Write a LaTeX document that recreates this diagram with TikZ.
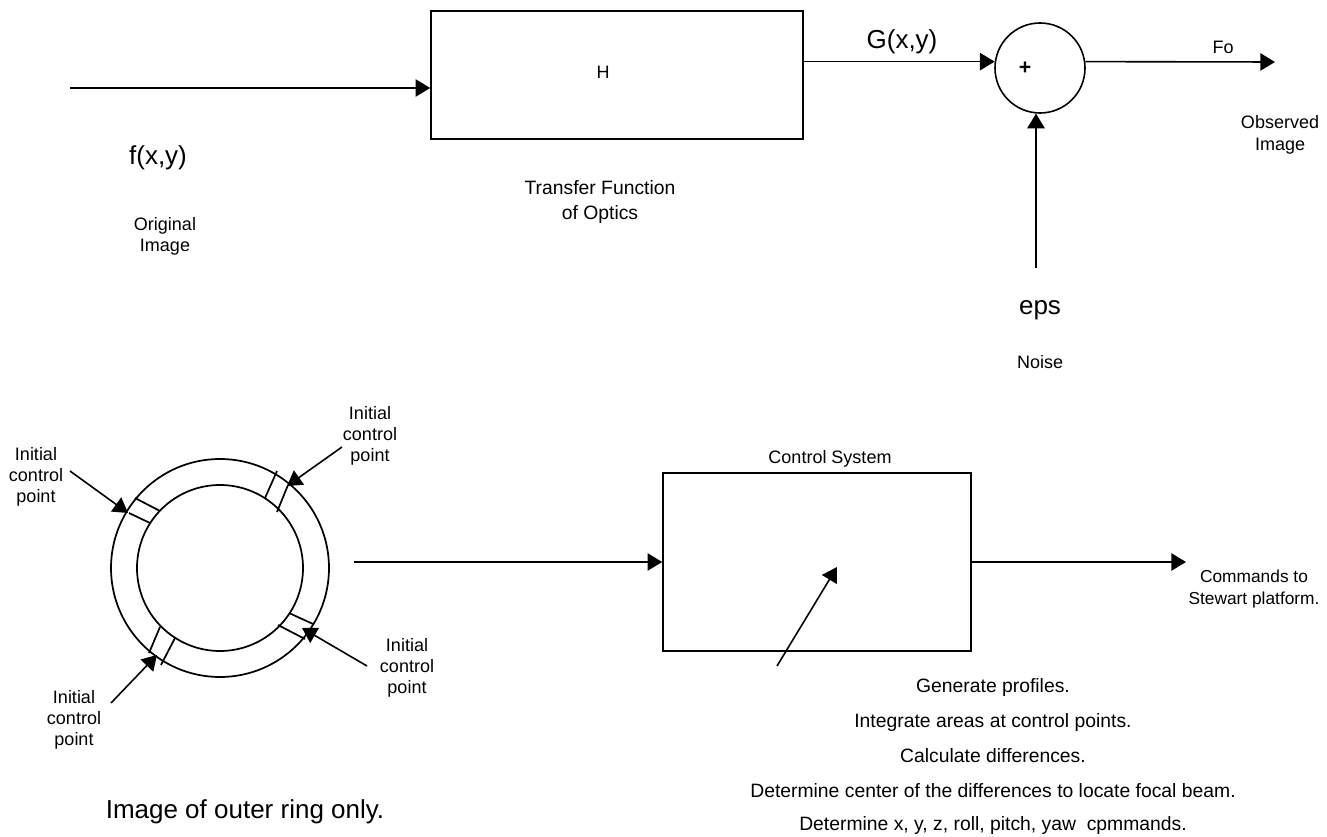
\documentclass[tikz,border=0pt]{standalone}
\usepackage{fontspec}
\setmainfont{Liberation Sans}
\usetikzlibrary{arrows.meta}
\begin{document}
\begin{tikzpicture}[x=0.75pt,y=-0.75pt,
  line width=1.2pt,
  arr/.style={-{Triangle[length=11pt,width=13pt]}},
  lbl/.style={inner sep=0pt, align=center},
  small/.style={lbl, font=\fontsize{13.5}{16}\selectfont},
  mid/.style={lbl, font=\fontsize{14.5}{18.75}\selectfont},
  large/.style={lbl, font=\fontsize{19.5}{23}\selectfont},
  blk/.style={draw, rectangle, inner sep=0pt},
  ringc/.style={draw, circle, inner sep=0pt, line width=1.3pt},
  notch/.style={line width=1.3pt}
]
\useasboundingbox (0,0) rectangle (1327,837);

% ---------------- top row ----------------
\node[blk, minimum width=279pt, minimum height=96pt] (H) at (617,75) {};
\node[small] (Hlab) at (603,72) {H};
\node[mid] (tf) at (600,202.5) {Transfer Function\\of Optics};

\coordinate (in) at (70,88);
\draw[arr] (in) -- (in -| H.west);
\node[large] (fxy) at (158,158) {f(x,y)};
\node[small] (orig) at (165,236.5) {Original\\Image};

\node[draw, circle, minimum size=67.5pt, inner sep=0pt] (sum) at (1040,68) {};
\node[lbl, font=\fontsize{16}{18}\selectfont\bfseries] (plus) at (1025,68) {+};
\draw[arr] (H.east |- sum.172) -- (sum.172);
\node[large] (gxy) at (902,42) {G(x,y)};

\coordinate (fo) at (1275,62);
\draw[arr] (sum.8) -- (fo);
\node[small] (folab) at (1223,47) {Fo};
\node[small] (obs) at (1280,135) {Observed\\Image};

\coordinate (noise) at (1036,268);
\draw[arr] (noise) -- (noise |- sum.265);
\node[large] (eps) at (1040,310) {eps};
\node[small] (noiselab) at (1040,362) {Noise};

% ---------------- bottom row ----------------
\node[ringc, minimum size=163.5pt] (outer) at (220,568) {};
\node[ringc, minimum size=124.5pt] (inner) at (220,568) {};

% control point notches
\draw[notch] (135,498) -- (160,511);
\draw[notch] (129,513) -- (150,523);
\draw[notch] (277,471) -- (265,498);
\draw[notch] (288,485) -- (277,512);
\draw[notch] (289,613) -- (313,624);
\draw[notch] (278,625) -- (305,639);
\draw[notch] (160,627) -- (149,653);
\draw[notch] (175,638) -- (161,665);

\coordinate (ulT) at (70,471);  \coordinate (ulH) at (128,513);
\coordinate (urT) at (342,447); \coordinate (urH) at (287,486);
\coordinate (lrT) at (367,666); \coordinate (lrH) at (302,628);
\coordinate (llT) at (111,703); \coordinate (llH) at (157,655);
\draw[arr] (ulT) -- (ulH);
\draw[arr] (urT) -- (urH);
\draw[arr] (lrT) -- (lrH);
\draw[arr] (llT) -- (llH);
\node[small] (icpUL) at (36,477) {Initial\\control\\point};
\node[small] (icpUR) at (370,436) {Initial\\control\\point};
\node[small] (icpLR) at (407,668) {Initial\\control\\point};
\node[small] (icpLL) at (74,720) {Initial\\control\\point};

\node[large] (ringlab) at (245,812) {Image of outer ring only.};

\node[blk, minimum width=231pt, minimum height=133.5pt] (ctrl) at (817,562) {};
\node[small] (ctrllab) at (830,459) {Control System};

\coordinate (ringout) at (354,562);
\draw[arr] (ringout) -- (ringout -| ctrl.west);

\coordinate (cmd) at (1186,562);
\draw[arr] (ctrl.east |- cmd) -- (cmd);
\node[lbl, font=\fontsize{13}{16}\selectfont] (cmdlab) at (1254,589) {Commands to\\Stewart platform.};

\coordinate (dT) at (777,666);
\coordinate (dH) at (837,567);
\draw[arr] (dT) -- (dH);

\node[mid] (s1) at (993,687) {Generate profiles.};
\node[mid] (s2) at (993,722) {Integrate areas at control points.};
\node[mid] (s3) at (993,756) {Calculate differences.};
\node[mid] (s4) at (993,791) {Determine center of the differences to locate focal beam.};
\node[mid] (s5) at (993,825) {Determine x, y, z, roll, pitch, yaw~ cpmmands.};
\end{tikzpicture}
\end{document}
